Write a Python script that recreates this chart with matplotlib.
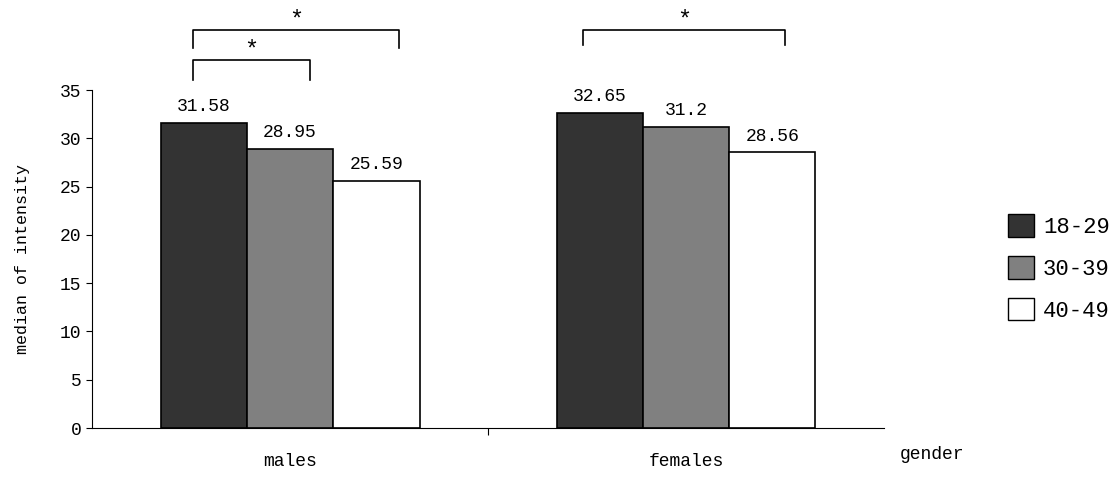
import matplotlib.pyplot as plt
from matplotlib.patches import Patch

genders = ["males", "females"]
age_groups = ["18-29", "30-39", "40-49"]
values = {
    "18-29": [31.58, 32.65],
    "30-39": [28.95, 31.2],
    "40-49": [25.59, 28.56],
}
labels = {
    "18-29": ["31.58", "32.65"],
    "30-39": ["28.95", "31.2"],
    "40-49": ["25.59", "28.56"],
}
colors = ["#333333", "#808080", "#ffffff"]

plt.rcParams["font.family"] = ["Liberation Mono", "DejaVu Sans Mono"]

fig = plt.figure(figsize=(11.17, 4.82), dpi=100)
ax = fig.add_axes([0.0824, 0.112, 0.709, 0.701])

w = 0.218
centers = [0.5, 1.5]
for i, g in enumerate(age_groups):
    xs = [c + (i - 1) * w for c in centers]
    ax.bar(xs, values[g], width=w, color=colors[i], edgecolor="black", linewidth=1.2)
    for x, v, t in zip(xs, values[g], labels[g]):
        ax.text(x, v + 0.8, t, ha="center", va="bottom", fontsize=13)

ax.set_xlim(0, 2)
ax.set_ylim(0, 35)
ax.set_yticks(range(0, 36, 5))
ax.tick_params(axis="y", labelsize=13, length=4)
ax.set_xticks([1.0])
ax.set_xticklabels([""])
ax.tick_params(axis="x", length=5)
for c, g in zip(centers, genders):
    ax.text(c, -2.6, g, ha="center", va="top", fontsize=13)
ax.text(2.04, -1.9, "gender", ha="left", va="top", fontsize=13)
for s in ["top", "right"]:
    ax.spines[s].set_visible(False)
ax.set_ylabel("median of intensity", fontsize=12, labelpad=22)

# significance brackets
def bracket(x1, x2, ytop, ybot, ystar):
    ax.plot([x1, x1, x2, x2], [ybot, ytop, ytop, ybot], color="black", lw=1.2, clip_on=False)
    ax.text((x1 + x2) / 2, ystar, "*", ha="center", va="center", fontsize=17, clip_on=False)

bracket(0.255, 0.55, 38.1, 36.0, 39.2)
bracket(0.255, 0.775, 41.2, 39.35, 42.3)
bracket(1.24, 1.75, 41.2, 39.7, 42.3)

handles = [Patch(facecolor=c, edgecolor="black") for c in colors]
fig.legend(handles, age_groups, loc="center left", bbox_to_anchor=(0.9, 0.444),
           frameon=False, fontsize=16, handlelength=1.2, handleheight=1.2,
           labelspacing=0.8, handletextpad=0.4, borderpad=0.1, borderaxespad=0)

fig.savefig("out.png", dpi=100)
